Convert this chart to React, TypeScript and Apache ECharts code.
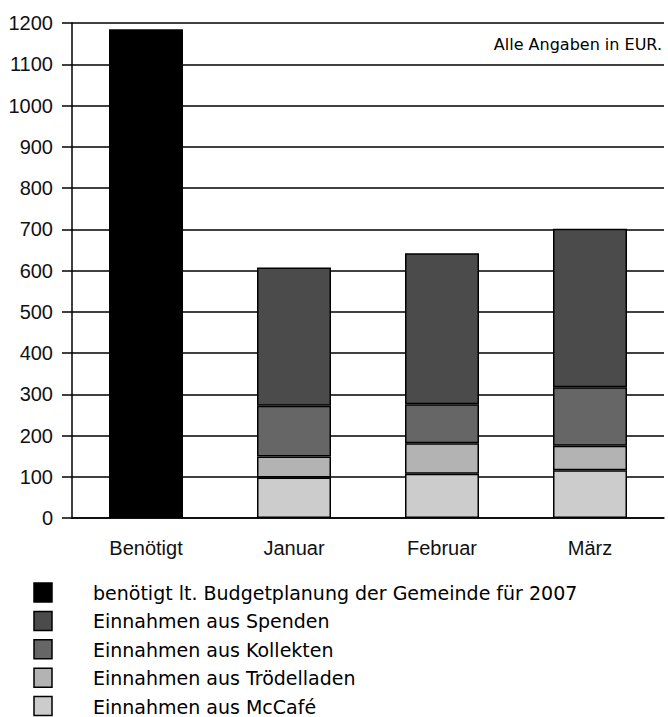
import React, { useEffect, useRef } from "react";
import * as echarts from "echarts";

const categories = ["Benötigt", "Januar", "Februar", "März"];
const benoetigt = [1185, "-", "-", "-"];
const mcCafe = ["-", 98, 107, 116];
const troedel = ["-", 51, 74, 59];
const kollekten = ["-", 123, 95, 142];
const spenden = ["-", 335, 366, 384];

const names = [
  "benötigt lt. Budgetplanung der Gemeinde für 2007",
  "Einnahmen aus Spenden",
  "Einnahmen aus Kollekten",
  "Einnahmen aus Trödelladen",
  "Einnahmen aus McCafé",
];
const colors = ["#000000", "#4b4b4b", "#666666", "#b3b3b3", "#cccccc"];

export default function App() {
  const ref = useRef<HTMLDivElement>(null);
  useEffect(() => {
    const chart = echarts.init(ref.current!, undefined, { renderer: "svg" });
    const mk = (name: string, data: any[], color: string) => ({
      name,
      type: "bar",
      stack: "a",
      data,
      barWidth: 74,
      itemStyle: { color, borderColor: "#000", borderWidth: 1.5 },
    });
    const legendEls: any[] = [];
    names.forEach((n, i) => {
      const y = 583 + i * 28.4;
      legendEls.push({
        type: "rect",
        shape: { x: 34, y: y, width: 18, height: 19 },
        style: { fill: colors[i], stroke: "#000", lineWidth: 1.5 },
      });
      legendEls.push({
        type: "text",
        x: 93,
        y: y + 10,
        style: {
          text: n,
          fontFamily: "DejaVu Sans",
          fontSize: 19,
          fill: "#000",
          verticalAlign: "middle",
        },
      });
    });
    chart.setOption({
      animation: false,
      grid: { left: 72, right: 4, top: 23, bottom: 199, containLabel: false },
      xAxis: {
        type: "category",
        data: categories,
        axisLine: { lineStyle: { color: "#000", width: 1.5 } },
        axisTick: { length: 12, lineStyle: { color: "#000", width: 1.5 } },
        axisLabel: {
          fontFamily: "Liberation Sans",
          fontSize: 20,
          color: "#111",
          margin: 20,
        },
      },
      yAxis: {
        type: "value",
        min: 0,
        max: 1200,
        interval: 100,
        axisLine: { show: true, lineStyle: { color: "#000", width: 1.5 } },
        axisTick: { show: true, length: 10, lineStyle: { color: "#000", width: 1.5 } },
        splitLine: { lineStyle: { color: "#000", width: 1.5 } },
        axisLabel: {
          fontFamily: "Liberation Sans",
          fontSize: 20,
          color: "#111",
          margin: 19,
          formatter: (v: number) => String(v),
        },
      },
      graphic: [
        {
          type: "text",
          right: 6,
          top: 36,
          style: {
            text: "Alle Angaben in EUR.",
            fontFamily: "DejaVu Sans",
            fontSize: 16,
            fill: "#000",
          },
        },
        ...legendEls,
      ],
      series: [
        mk(names[0], benoetigt, colors[0]),
        mk(names[4], mcCafe, colors[4]),
        mk(names[3], troedel, colors[3]),
        mk(names[2], kollekten, colors[2]),
        mk(names[1], spenden, colors[1]),
      ],
    });
    return () => chart.dispose();
  }, []);
  return <div ref={ref} style={{ width: 668, height: 717, position: "absolute", left: 0, top: 0 }} />;
}
